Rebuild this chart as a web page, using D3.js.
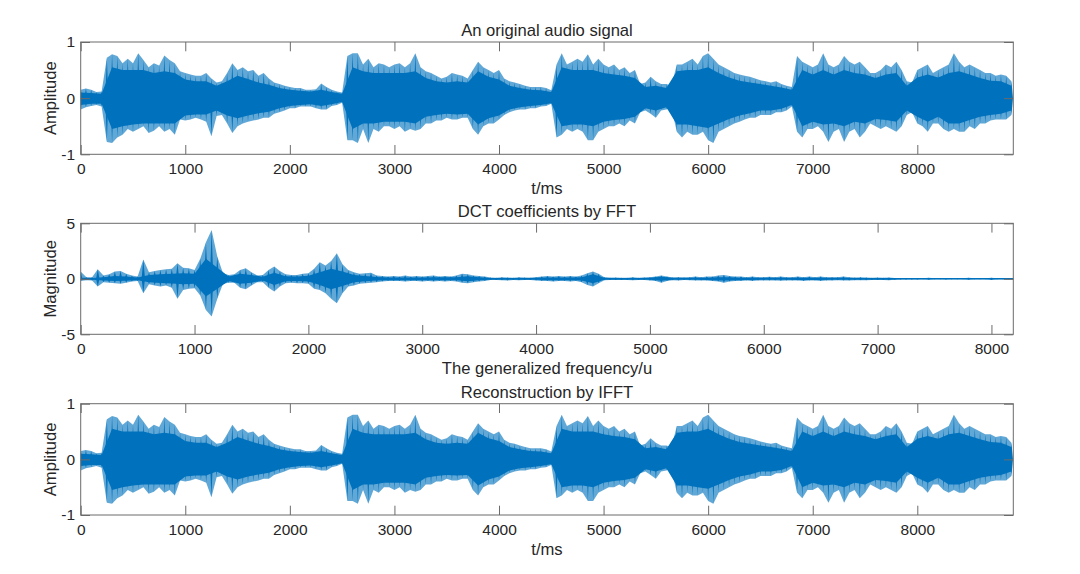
<!DOCTYPE html>
<html><head><meta charset="utf-8">
<script src="https://cdn.jsdelivr.net/npm/d3@7"></script>
<style>
body{margin:0;background:#fff}
svg{display:block}
text{font-family:Arial,"Liberation Sans",Helvetica,sans-serif;fill:#262626}
</style>
</head><body>
<svg id="c" width="1080" height="574"></svg>
<script>
// ---------- DATA ----------
// Original audio signal: spike tips every 50 ms, solid core every 100 ms (t = 0 .. 8900 ms)
const sigPeakStep = 50, sigCoreStep = 100, sigDuration = 8918;
const sigPeakHi = [
0.15,0.17,0.15,0.11,0.12,0.72,0.78,0.75,0.62,0.70,
0.62,0.80,0.68,0.55,0.62,0.58,0.76,0.68,0.62,0.48,
0.45,0.42,0.40,0.40,0.45,0.35,0.28,0.30,0.45,0.62,
0.50,0.55,0.48,0.50,0.40,0.45,0.35,0.28,0.25,0.22,
0.20,0.18,0.18,0.15,0.15,0.16,0.26,0.20,0.15,0.12,
0.10,0.75,0.80,0.80,0.60,0.70,0.55,0.62,0.60,0.55,
0.60,0.62,0.55,0.62,0.80,0.55,0.48,0.45,0.40,0.35,
0.38,0.45,0.42,0.40,0.35,0.50,0.65,0.55,0.50,0.45,
0.50,0.35,0.30,0.28,0.25,0.22,0.20,0.20,0.20,0.18,
0.14,0.60,0.80,0.60,0.65,0.70,0.65,0.78,0.60,0.70,
0.60,0.55,0.60,0.50,0.55,0.45,0.50,0.25,0.28,0.38,
0.30,0.25,0.25,0.22,0.60,0.60,0.65,0.70,0.60,0.75,
0.80,0.70,0.60,0.55,0.50,0.45,0.42,0.40,0.38,0.35,
0.32,0.30,0.28,0.30,0.25,0.22,0.20,0.75,0.65,0.60,
0.55,0.60,0.80,0.60,0.55,0.60,0.75,0.65,0.60,0.65,
0.55,0.45,0.45,0.50,0.60,0.55,0.65,0.50,0.30,0.28,
0.50,0.55,0.60,0.45,0.50,0.55,0.60,0.80,0.65,0.55,
0.60,0.55,0.50,0.45,0.45,0.40,0.42,0.40,0.30];
const sigPeakLo = [
-0.20,-0.16,-0.14,-0.12,-0.15,-0.78,-0.80,-0.70,-0.65,-0.55,
-0.60,-0.55,-0.50,-0.62,-0.58,-0.50,-0.60,-0.55,-0.65,-0.38,
-0.40,-0.38,-0.35,-0.38,-0.42,-0.68,-0.32,-0.30,-0.45,-0.62,
-0.50,-0.45,-0.42,-0.40,-0.38,-0.35,-0.35,-0.28,-0.25,-0.22,
-0.18,-0.18,-0.15,-0.15,-0.15,-0.18,-0.20,-0.20,-0.14,-0.12,
-0.08,-0.75,-0.75,-0.80,-0.55,-0.80,-0.55,-0.60,-0.50,-0.50,
-0.55,-0.50,-0.60,-0.55,-0.58,-0.55,-0.45,-0.45,-0.40,-0.40,
-0.35,-0.38,-0.38,-0.35,-0.35,-0.55,-0.65,-0.50,-0.45,-0.45,
-0.38,-0.30,-0.25,-0.22,-0.20,-0.20,-0.18,-0.18,-0.15,-0.14,
-0.10,-0.70,-0.65,-0.55,-0.60,-0.55,-0.60,-0.75,-0.75,-0.60,
-0.55,-0.50,-0.50,-0.45,-0.50,-0.40,-0.45,-0.25,-0.22,-0.28,
-0.35,-0.22,-0.20,-0.18,-0.60,-0.70,-0.60,-0.65,-0.65,-0.60,
-0.75,-0.80,-0.60,-0.55,-0.50,-0.45,-0.42,-0.38,-0.35,-0.35,
-0.30,-0.30,-0.30,-0.25,-0.25,-0.22,-0.15,-0.60,-0.70,-0.55,
-0.55,-0.50,-0.60,-0.78,-0.60,-0.55,-0.78,-0.60,-0.55,-0.70,
-0.60,-0.45,-0.50,-0.55,-0.50,-0.55,-0.60,-0.50,-0.30,-0.25,
-0.45,-0.50,-0.60,-0.45,-0.45,-0.55,-0.60,-0.55,-0.60,-0.60,
-0.50,-0.55,-0.45,-0.45,-0.40,-0.38,-0.38,-0.38,-0.30];
const sigCoreHi = [
0.10,0.09,0.08,0.55,0.50,0.50,0.50,0.45,0.48,0.45,
0.33,0.30,0.30,0.22,0.30,0.40,0.34,0.28,0.24,0.18,
0.15,0.13,0.12,0.15,0.11,0.08,0.55,0.48,0.45,0.45,
0.45,0.45,0.48,0.36,0.30,0.28,0.30,0.28,0.48,0.38,
0.33,0.22,0.18,0.15,0.14,0.11,0.55,0.50,0.50,0.50,
0.45,0.42,0.40,0.36,0.20,0.22,0.18,0.48,0.50,0.50,
0.55,0.45,0.37,0.31,0.28,0.25,0.22,0.19,0.15,0.50,
0.42,0.50,0.42,0.50,0.45,0.42,0.36,0.42,0.45,0.22,
0.37,0.42,0.37,0.45,0.48,0.42,0.36,0.31,0.30,0.22];
const sigCoreLo = [
-0.12,-0.10,-0.10,-0.55,-0.50,-0.47,-0.45,-0.45,-0.45,-0.45,
-0.31,-0.29,-0.29,-0.22,-0.31,-0.36,-0.31,-0.27,-0.24,-0.18,
-0.14,-0.12,-0.11,-0.14,-0.11,-0.07,-0.55,-0.45,-0.45,-0.42,
-0.42,-0.42,-0.45,-0.33,-0.30,-0.28,-0.29,-0.28,-0.47,-0.36,
-0.31,-0.20,-0.16,-0.14,-0.12,-0.09,-0.50,-0.47,-0.47,-0.50,
-0.42,-0.39,-0.37,-0.33,-0.18,-0.22,-0.16,-0.47,-0.47,-0.50,
-0.53,-0.45,-0.37,-0.31,-0.27,-0.22,-0.22,-0.19,-0.12,-0.50,
-0.42,-0.47,-0.45,-0.50,-0.42,-0.45,-0.37,-0.39,-0.42,-0.22,
-0.33,-0.42,-0.33,-0.45,-0.45,-0.39,-0.33,-0.30,-0.28,-0.22];

// DCT coefficients: spike tips every 50 u, core every 100 u (u = 0 .. 8192)
const dctPeakStep = 50, dctCoreStep = 100, dctLength = 8192;
const dctPeakHi = [
0.65,0.15,0.15,0.85,0.30,0.40,0.65,0.70,0.45,0.30,
0.20,1.75,0.60,0.70,0.80,0.85,0.90,1.40,1.00,0.95,
0.80,1.80,3.30,4.40,2.00,0.50,0.35,0.40,0.80,0.95,
0.60,0.30,0.35,0.80,1.10,0.70,0.40,0.35,0.35,0.45,
0.50,0.90,1.50,1.20,1.60,2.30,1.30,0.80,0.60,0.45,
0.50,0.55,0.30,0.25,0.20,0.25,0.20,0.30,0.20,0.25,
0.20,0.25,0.30,0.20,0.25,0.20,0.30,0.45,0.40,0.30,
0.25,0.20,0.12,0.10,0.15,0.12,0.10,0.15,0.12,0.10,
0.15,0.20,0.25,0.20,0.25,0.20,0.25,0.20,0.30,0.50,
0.65,0.45,0.15,0.10,0.12,0.10,0.10,0.15,0.10,0.12,
0.15,0.20,0.30,0.20,0.12,0.15,0.12,0.15,0.20,0.15,
0.20,0.20,0.30,0.35,0.25,0.20,0.20,0.15,0.20,0.15,
0.15,0.18,0.15,0.20,0.15,0.15,0.20,0.15,0.20,0.15,
0.20,0.15,0.15,0.15,0.20,0.15,0.12,0.15,0.12,0.10,
0.12,0.10,0.12,0.08,0.06,0.06,0.08,0.06,0.05,0.10,
0.05,0.05,0.06,0.05,0.05,0.05,0.10,0.06,0.05,0.05,
0.10,0.05,0.05,0.05];
const dctPeakLo = [
-0.20,-0.12,-0.15,-0.70,-0.30,-0.35,-0.40,-0.45,-0.35,-0.25,
-0.20,-1.30,-0.50,-0.60,-0.70,-0.60,-0.80,-1.80,-1.00,-0.90,
-0.85,-1.50,-2.80,-3.40,-1.80,-0.45,-0.35,-0.35,-0.80,-0.95,
-0.60,-0.30,-0.30,-0.80,-1.15,-0.70,-0.40,-0.35,-0.40,-0.40,
-0.45,-0.90,-1.00,-1.30,-1.80,-2.20,-1.30,-0.70,-0.60,-0.45,
-0.40,-0.35,-0.30,-0.25,-0.20,-0.20,-0.20,-0.25,-0.20,-0.20,
-0.25,-0.20,-0.25,-0.20,-0.25,-0.20,-0.25,-0.35,-0.40,-0.30,
-0.25,-0.20,-0.10,-0.10,-0.12,-0.15,-0.10,-0.12,-0.10,-0.10,
-0.15,-0.20,-0.20,-0.25,-0.20,-0.20,-0.25,-0.20,-0.30,-0.55,
-0.70,-0.40,-0.12,-0.10,-0.10,-0.10,-0.10,-0.12,-0.10,-0.10,
-0.15,-0.20,-0.35,-0.20,-0.12,-0.15,-0.10,-0.12,-0.15,-0.15,
-0.15,-0.20,-0.25,-0.35,-0.25,-0.20,-0.20,-0.15,-0.20,-0.15,
-0.15,-0.15,-0.15,-0.18,-0.15,-0.15,-0.15,-0.20,-0.15,-0.15,
-0.20,-0.15,-0.15,-0.12,-0.15,-0.15,-0.12,-0.12,-0.12,-0.10,
-0.10,-0.10,-0.12,-0.08,-0.06,-0.06,-0.06,-0.06,-0.05,-0.08,
-0.05,-0.05,-0.06,-0.05,-0.05,-0.05,-0.08,-0.05,-0.05,-0.05,
-0.10,-0.05,-0.05,-0.05];
const dctCoreHi = [
0.10,0.08,0.15,0.25,0.20,0.12,0.35,0.40,0.45,0.50,
0.45,1.80,1.00,0.20,0.45,0.35,0.18,0.55,0.22,0.20,
0.28,0.60,0.90,0.65,0.35,0.25,0.16,0.12,0.12,0.12,
0.12,0.14,0.13,0.15,0.22,0.14,0.08,0.08,0.08,0.08,
0.09,0.12,0.12,0.12,0.15,0.40,0.09,0.08,0.08,0.08,
0.09,0.18,0.09,0.09,0.09,0.10,0.15,0.15,0.10,0.10,
0.09,0.09,0.09,0.10,0.10,0.10,0.09,0.09,0.08,0.08,
0.08,0.08,0.07,0.07,0.07,0.07,0.07,0.07,0.07,0.07,
0.07,0.07,0.07];
const dctCoreLo = [
-0.08,-0.08,-0.15,-0.20,-0.18,-0.12,-0.30,-0.38,-0.42,-0.50,
-0.45,-1.60,-0.90,-0.20,-0.45,-0.35,-0.16,-0.55,-0.22,-0.20,
-0.25,-0.55,-0.95,-0.65,-0.32,-0.22,-0.15,-0.12,-0.12,-0.12,
-0.12,-0.13,-0.12,-0.14,-0.22,-0.13,-0.08,-0.08,-0.08,-0.08,
-0.09,-0.12,-0.12,-0.12,-0.15,-0.40,-0.09,-0.08,-0.08,-0.08,
-0.09,-0.18,-0.09,-0.09,-0.09,-0.10,-0.15,-0.15,-0.10,-0.10,
-0.09,-0.09,-0.09,-0.10,-0.10,-0.10,-0.09,-0.09,-0.08,-0.08,
-0.08,-0.08,-0.07,-0.07,-0.07,-0.07,-0.07,-0.07,-0.07,-0.07,
-0.07,-0.07,-0.07];

// Reconstruction by IFFT: identical to the original signal
const recPeakHi = sigPeakHi.slice(), recPeakLo = sigPeakLo.slice();
const recCoreHi = sigCoreHi.slice(), recCoreLo = sigCoreLo.slice();

// Tick values
const timeTicks = [0,1000,2000,3000,4000,5000,6000,7000,8000];
const freqTicks = [0,1000,2000,3000,4000,5000,6000,7000,8000];
const ampTicks = [-1,0,1];
const magTicks = [-5,0,5];

// ---------- DRAWING ----------
const BLUE = "#0072BD", AXC = "#6b6b6b";
const L = 80.7, R = 1013.3, TL = 9.3;
const TICKFS = 15.5, LABFS = 16.6;
const svg = d3.select("#c");

function panel(o){
  const x = d3.scaleLinear().domain([0, o.xMax]).range([L, R]);
  const y = d3.scaleLinear().domain(o.yDom).range([o.bottom, o.top]);
  const cid = "clip" + o.key;
  svg.append("clipPath").attr("id", cid).append("rect")
     .attr("x", L).attr("y", o.top).attr("width", R - L).attr("height", o.bottom - o.top);
  const dg = svg.append("g").attr("clip-path", `url(#${cid})`);

  // translucent envelope of the spike tips (dense thin strokes in the original)
  const peakArea = d3.area()
    .x((d, i) => x(i * o.peakStep))
    .y0(d => y(d[1])).y1(d => y(d[0]));
  dg.append("path").datum(d3.zip(o.peakHi, o.peakLo)).attr("d", peakArea)
    .attr("fill", BLUE).attr("fill-opacity", 0.62);

  // solid core
  const area = d3.area()
    .x((d, i) => x(i * o.coreStep))
    .y0(d => y(d[1])).y1(d => y(d[0]));
  dg.append("path").datum(d3.zip(o.coreHi, o.coreLo)).attr("d", area).attr("fill", BLUE);

  // narrow spikes reaching the tips
  const hw = o.peakStep * 0.3;
  const tri = (vals) => vals.map((v, i) => {
    const t = i * o.peakStep;
    return `M${x(t - hw)},${y(0)}L${x(t)},${y(v)}L${x(t + hw)},${y(0)}Z`;
  }).join("");
  dg.append("path").attr("d", tri(o.peakHi)).attr("fill", BLUE);
  dg.append("path").attr("d", tri(o.peakLo)).attr("fill", BLUE);

  // axes
  const fmt = d => (d < 0 ? "-" + Math.abs(d) : String(d));
  const gb = svg.append("g").attr("transform", `translate(0,${o.bottom})`)
    .call(d3.axisBottom(x).tickValues(o.xTicks).tickSize(-TL).tickSizeOuter(0).tickFormat(fmt));
  gb.selectAll("text").attr("y", 19.8).attr("dy", null).style("font-size", TICKFS + "px").attr("fill", "#262626");
  const gt = svg.append("g").attr("transform", `translate(0,${o.top})`)
    .call(d3.axisTop(x).tickValues(o.xTicks).tickSize(-TL).tickSizeOuter(0).tickFormat(""));
  const gl = svg.append("g").attr("transform", `translate(${L},0)`)
    .call(d3.axisLeft(y).tickValues(o.yTicks).tickSize(-TL).tickSizeOuter(0).tickPadding(5.7).tickFormat(fmt));
  gl.selectAll("text").style("font-size", TICKFS + "px").attr("fill", "#262626");
  const gr = svg.append("g").attr("transform", `translate(${R},0)`)
    .call(d3.axisRight(y).tickValues(o.yTicks).tickSize(-TL).tickSizeOuter(0).tickFormat(""));
  [gb, gt, gl, gr].forEach(g => {
    g.select(".domain").remove();
    g.selectAll(".tick line").attr("stroke", AXC).attr("stroke-width", 1);
    g.attr("font-family", null);
  });
  svg.append("rect").attr("x", L).attr("y", o.top).attr("width", R - L).attr("height", o.bottom - o.top)
    .attr("fill", "none").attr("stroke", AXC).attr("stroke-width", 1);

  // texts
  svg.append("text").attr("x", (L + R) / 2).attr("y", o.top - 6.2).attr("text-anchor", "middle")
    .style("font-size", LABFS + "px").text(o.title);
  svg.append("text").attr("x", (L + R) / 2).attr("y", o.bottom + 39.5).attr("text-anchor", "middle")
    .style("font-size", LABFS + "px").text(o.xLabel);
  svg.append("text").attr("transform", `translate(55.7,${(o.top + o.bottom) / 2}) rotate(-90)`)
    .attr("text-anchor", "middle").style("font-size", LABFS + "px").text(o.yLabel);
}

panel({key:"a", top:42, bottom:154.3, xMax:sigDuration, yDom:[-1,1], xTicks:timeTicks, yTicks:ampTicks,
  peakStep:sigPeakStep, coreStep:sigCoreStep, peakHi:sigPeakHi, peakLo:sigPeakLo, coreHi:sigCoreHi, coreLo:sigCoreLo,
  title:"An original audio signal", xLabel:"t/ms", yLabel:"Amplitude"});
panel({key:"b", top:223.3, bottom:334.3, xMax:dctLength, yDom:[-5,5], xTicks:freqTicks, yTicks:magTicks,
  peakStep:dctPeakStep, coreStep:dctCoreStep, peakHi:dctPeakHi, peakLo:dctPeakLo, coreHi:dctCoreHi, coreLo:dctCoreLo,
  title:"DCT coefficients by FFT", xLabel:"The generalized frequency/u", yLabel:"Magnitude"});
panel({key:"c", top:403.7, bottom:515, xMax:sigDuration, yDom:[-1,1], xTicks:timeTicks, yTicks:ampTicks,
  peakStep:sigPeakStep, coreStep:sigCoreStep, peakHi:recPeakHi, peakLo:recPeakLo, coreHi:recCoreHi, coreLo:recCoreLo,
  title:"Reconstruction by IFFT", xLabel:"t/ms", yLabel:"Amplitude"});
</script>
</body></html>
